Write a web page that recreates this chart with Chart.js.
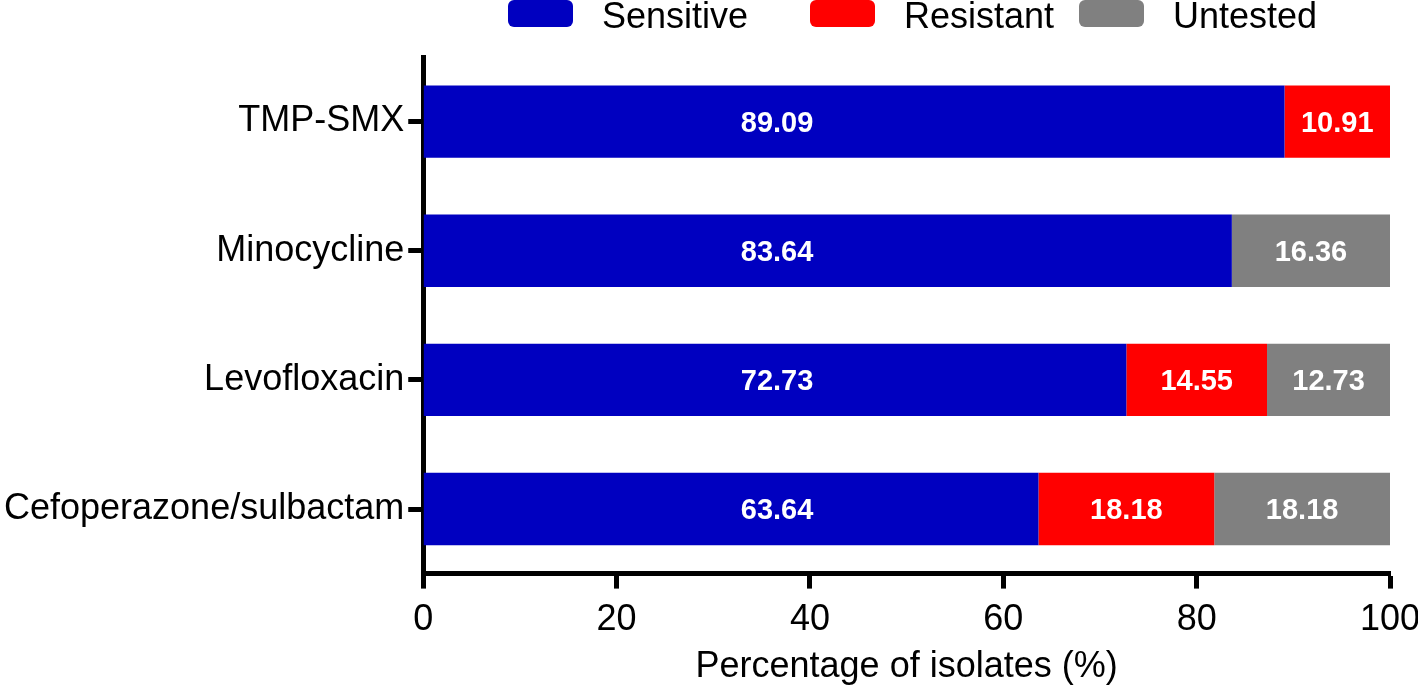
<!DOCTYPE html>
<html>
<head>
<meta charset="utf-8">
<script src="https://cdn.jsdelivr.net/npm/chart.js@4.4.1/dist/chart.umd.min.js"></script>
<style>
html,body{margin:0;padding:0;background:#fff;}
#wrap{width:1418px;height:692px;position:relative;}
</style>
</head>
<body>
<div id="wrap"><canvas id="c" width="1418" height="692"></canvas></div>
<script>
const categories = ['TMP-SMX', 'Minocycline', 'Levofloxacin', 'Cefoperazone/sulbactam'];
const sensitive = [89.09, 83.64, 72.73, 63.64];
const resistant = [10.91, 0, 14.55, 18.18];
const untested = [0, 16.36, 12.73, 18.18];
const xTicks = [0, 20, 40, 60, 80, 100];
const seriesNames = ['Sensitive', 'Resistant', 'Untested'];
const colors = ['#0000C0', '#FF0000', '#808080'];

const FONT = "'Liberation Sans', Arial, Helvetica, sans-serif";

// Legend drawn on the canvas, items laid out like the reference (irregular spacing)
const legendLayout = { boxX: [508, 810, 1079], boxW: 65, boxH: 27, top: 0, textGap: 29, radius: 6, baseline: 28 };
const customLegend = {
  id: 'customLegend',
  afterDraw(chart) {
    const ctx = chart.ctx;
    const L = legendLayout;
    ctx.save();
    chart.data.datasets.forEach((ds, i) => {
      const x = L.boxX[i];
      ctx.fillStyle = ds.backgroundColor;
      ctx.beginPath();
      if (ctx.roundRect) ctx.roundRect(x, L.top, L.boxW, L.boxH, L.radius);
      else ctx.rect(x, L.top, L.boxW, L.boxH);
      ctx.fill();
      ctx.fillStyle = '#000';
      ctx.font = '36px ' + FONT;
      ctx.textAlign = 'left';
      ctx.textBaseline = 'alphabetic';
      ctx.fillText(ds.label, x + L.boxW + L.textGap, L.baseline);
    });
    ctx.restore();
  }
};

const barLabels = {
  id: 'barLabels',
  afterDatasetsDraw(chart) {
    const ctx = chart.ctx;
    const xs = chart.scales.x;
    ctx.save();
    ctx.fillStyle = '#fff';
    ctx.font = 'bold 29px ' + FONT;
    ctx.textAlign = 'center';
    ctx.textBaseline = 'middle';
    chart.data.datasets.forEach((ds, di) => {
      const meta = chart.getDatasetMeta(di);
      meta.data.forEach((el, i) => {
        const v = ds.data[i];
        if (!v) return;
        let x = (el.x + el.base) / 2;
        if (di === 0) x = xs.getPixelForValue(36.6);
        ctx.fillText(v.toFixed(2), x, el.y + 2);
      });
    });
    ctx.restore();
  }
};

const datasets = [sensitive, resistant, untested].map((d, i) => ({
  label: seriesNames[i],
  data: d,
  backgroundColor: colors[i],
  borderWidth: 0,
  categoryPercentage: 1.0,
  barPercentage: 0.56
}));

new Chart(document.getElementById('c'), {
  type: 'bar',
  data: { labels: categories, datasets },
  options: {
    indexAxis: 'y',
    responsive: false,
    animation: false,
    layout: { padding: { left: 0, right: 0, top: 57, bottom: 0 } },
    plugins: {
      tooltip: { enabled: false },
      legend: { display: false }
    },
    scales: {
      x: {
        stacked: true,
        min: 0,
        max: 100,
        afterBuildTicks(scale) { scale.ticks = xTicks.map(v => ({ value: v })); },
        afterFit(scale) { scale.paddingRight = 28; },
        ticks: { color: '#000', font: { family: FONT, size: 36 }, padding: 10, maxRotation: 0 },
        grid: { drawOnChartArea: false, drawTicks: true, tickLength: 15, tickWidth: 5, tickColor: '#000' },
        border: { display: true, width: 5, color: '#000' },
        title: {
          display: true,
          text: 'Percentage of isolates (%)',
          color: '#000',
          font: { family: FONT, size: 36 },
          padding: { top: -6, bottom: 3 }
        }
      },
      y: {
        stacked: true,
        ticks: { color: '#000', font: { family: FONT, size: 36 }, padding: 4 },
        grid: { offset: false, drawOnChartArea: false, drawTicks: true, tickLength: 15, tickWidth: 5, tickColor: '#000' },
        border: { display: true, width: 5, color: '#000' }
      }
    }
  },
  plugins: [customLegend, barLabels]
});
</script>
</body>
</html>
